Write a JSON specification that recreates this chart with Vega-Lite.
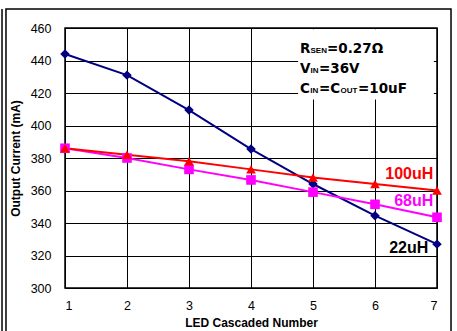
{
  "$schema": "https://vega.github.io/schema/vega-lite/v6.json",
  "width": 372,
  "height": 260,
  "autosize": "none",
  "padding": {"left": 65, "top": 28, "right": 20, "bottom": 43},
  "background": "white",
  "config": {
    "font": "Liberation Sans",
    "view": {"stroke": "black", "strokeWidth": 1.5},
    "axis": {"grid": true, "gridColor": "black", "gridWidth": 1, "gridOpacity": 1, "domain": false, "ticks": false, "labelOverlap": false, "labelFont": "Liberation Sans", "labelFontSize": 12.5, "labelColor": "black", "titleFont": "Liberation Sans", "titleFontSize": 12, "titleFontWeight": "bold", "titleColor": "black"},
    "axisY": {"tickCount": 12}
  },
  "datasets": {
    "series": [
      {"inductor": "22uH", "n": 1, "current": 444},
      {"inductor": "22uH", "n": 2, "current": 431},
      {"inductor": "22uH", "n": 3, "current": 409.5},
      {"inductor": "22uH", "n": 4, "current": 385.5},
      {"inductor": "22uH", "n": 5, "current": 364},
      {"inductor": "22uH", "n": 6, "current": 344.5},
      {"inductor": "22uH", "n": 7, "current": 327},
      {"inductor": "68uH", "n": 1, "current": 386},
      {"inductor": "68uH", "n": 2, "current": 380},
      {"inductor": "68uH", "n": 3, "current": 373},
      {"inductor": "68uH", "n": 4, "current": 366.5},
      {"inductor": "68uH", "n": 5, "current": 359},
      {"inductor": "68uH", "n": 6, "current": 351.5},
      {"inductor": "68uH", "n": 7, "current": 343.5},
      {"inductor": "100uH", "n": 1, "current": 386},
      {"inductor": "100uH", "n": 2, "current": 382},
      {"inductor": "100uH", "n": 3, "current": 378},
      {"inductor": "100uH", "n": 4, "current": 373},
      {"inductor": "100uH", "n": 5, "current": 368},
      {"inductor": "100uH", "n": 6, "current": 364},
      {"inductor": "100uH", "n": 7, "current": 360}
    ],
    "labels": [
      {"text": "100uH", "x": 6.94, "y": 370.2, "color": "#FF0000"},
      {"text": "68uH", "x": 6.94, "y": 353.5, "color": "#FF00FF"},
      {"text": "22uH", "x": 6.86, "y": 324.6, "color": "black"}
    ],
    "big": [
      {"text": "R", "x": 4.79, "y": 444.8},
      {"text": "=0.27Ω", "x": 5.226, "y": 444.8},
      {"text": "V", "x": 4.79, "y": 432.5},
      {"text": "=36V", "x": 5.097, "y": 432.5},
      {"text": "C", "x": 4.79, "y": 419.8},
      {"text": "=C", "x": 5.097, "y": 419.8},
      {"text": "=10uF", "x": 5.726, "y": 419.8}
    ],
    "small": [
      {"text": "SEN", "x": 4.96, "y": 444.8},
      {"text": "IN", "x": 4.96, "y": 432.5},
      {"text": "IN", "x": 4.955, "y": 419.8},
      {"text": "OUT", "x": 5.444, "y": 419.8}
    ],
    "box": [{"x1": 4.76, "x2": 6.95, "y1": 459.3, "y2": 416}],
    "frame": [{"x1": 0.048, "x2": 7.226, "y1": 471.7, "y2": 270}],
    "frame2": [{"x": -0.016, "y1": 471.7, "y2": 270}]
  },
  "layer": [
    {
      "data": {"name": "frame"},
      "mark": {"type": "rect", "fill": null, "fillOpacity": 0, "stroke": "black", "strokeWidth": 1.5, "clip": false},
      "encoding": {
        "x": {"field": "x1", "type": "quantitative", "title": "LED Cascaded Number", "scale": {"domain": [1, 7]}, "axis": {"values": [1, 2, 3, 4, 5, 6, 7], "format": "d", "labelPadding": 11, "titlePadding": 6}},
        "x2": {"field": "x2"},
        "y": {"field": "y1", "type": "quantitative", "title": "Output Current (mA)", "scale": {"domain": [300, 460], "nice": false}, "axis": {"values": [300, 320, 340, 360, 380, 400, 420, 440, 460], "tickCount": 12, "labelPadding": 14, "titlePadding": 8}},
        "y2": {"field": "y2"}
      }
    },
    {
      "data": {"name": "frame2"},
      "mark": {"type": "rule", "stroke": "black", "strokeWidth": 1.5, "clip": false},
      "encoding": {
        "x": {"field": "x", "type": "quantitative"},
        "y": {"field": "y1", "type": "quantitative"},
        "y2": {"field": "y2"}
      }
    },
    {
      "data": {"name": "box"},
      "mark": {"type": "rect", "fill": "white", "stroke": null},
      "encoding": {
        "x": {"field": "x1", "type": "quantitative"},
        "x2": {"field": "x2"},
        "y": {"field": "y1", "type": "quantitative"},
        "y2": {"field": "y2"}
      }
    },
    {
      "data": {"name": "series"},
      "mark": {"type": "line", "strokeWidth": 2},
      "encoding": {
        "x": {"field": "n", "type": "quantitative"},
        "y": {"field": "current", "type": "quantitative", "axis": {"values": [300, 320, 340, 360, 380, 400, 420, 440, 460], "tickCount": 12, "labelPadding": 14, "titlePadding": 8}},
        "color": {"field": "inductor", "type": "nominal", "scale": {"domain": ["22uH", "68uH", "100uH"], "range": ["#000080", "#FF00FF", "#FF0000"]}, "legend": null},
        "order": {"field": "n"}
      }
    },
    {
      "data": {"name": "series"},
      "mark": {"type": "point", "filled": true, "opacity": 1},
      "encoding": {
        "x": {"field": "n", "type": "quantitative"},
        "y": {"field": "current", "type": "quantitative"},
        "color": {"field": "inductor", "type": "nominal", "legend": null},
        "shape": {"field": "inductor", "type": "nominal", "scale": {"domain": ["22uH", "68uH", "100uH"], "range": ["diamond", "square", "triangle-up"]}, "legend": null},
        "size": {"field": "inductor", "type": "nominal", "scale": {"domain": ["22uH", "68uH", "100uH"], "range": [90, 95, 120]}, "legend": null}
      }
    },
    {
      "data": {"name": "labels"},
      "mark": {"type": "text", "align": "right", "baseline": "middle", "fontSize": 16, "fontWeight": "bold"},
      "encoding": {
        "x": {"field": "x", "type": "quantitative"},
        "y": {"field": "y", "type": "quantitative"},
        "text": {"field": "text"},
        "color": {"field": "color", "type": "nominal", "scale": null}
      }
    },
    {
      "data": {"name": "big"},
      "mark": {"type": "text", "align": "left", "baseline": "alphabetic", "font": "DejaVu Sans", "fontSize": 13.5, "fontWeight": "bold", "color": "black"},
      "encoding": {
        "x": {"field": "x", "type": "quantitative"},
        "y": {"field": "y", "type": "quantitative"},
        "text": {"field": "text"}
      }
    },
    {
      "data": {"name": "small"},
      "mark": {"type": "text", "align": "left", "baseline": "alphabetic", "fontSize": 8, "fontWeight": "bold", "color": "black"},
      "encoding": {
        "x": {"field": "x", "type": "quantitative"},
        "y": {"field": "y", "type": "quantitative"},
        "text": {"field": "text"}
      }
    }
  ]
}
